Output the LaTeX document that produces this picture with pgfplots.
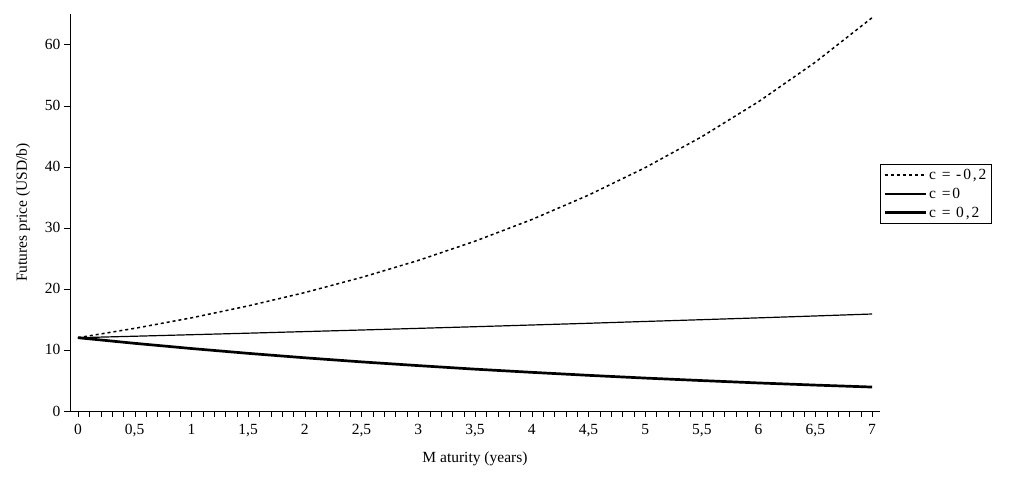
\documentclass[border=0pt]{standalone}
\usepackage{pgfplots}
\pgfplotsset{compat=1.18}
\usepackage{fontspec}
\setmainfont{Liberation Serif}
\newfontfamily\ls[LetterSpace=12]{Liberation Serif}
\begin{document}
\begin{tikzpicture}
\begin{axis}[name=ax, scale only axis, width=810pt, height=397pt,
 xmin=-0.07, xmax=7.07, ymin=0, ymax=65,
 axis x line=bottom, axis y line=left, axis line style={-},
 xtick={0,0.5,...,7}, minor x tick num=4, ytick={0,10,...,60},
 xticklabels={0,{0,5},1,{1,5},2,{2,5},3,{3,5},4,{4,5},5,{5,5},6,{6,5},7},
 tick style={black}, tick align=outside, major tick length=6pt, minor tick length=6pt,
 ticklabel style={font=\fontsize{15.5}{17}\selectfont},
 xticklabel style={yshift=-4pt},
 /pgf/number format/assume math mode=true,
 xlabel={M aturity (years)}, ylabel={Futures price (USD/b)},
 label style={font=\fontsize{15.5}{17}\selectfont},
 xlabel style={yshift=-8pt}, ylabel style={yshift=8pt},
 legend style={at={(1,0.622)}, anchor=north west, draw=black, font=\ls\fontsize{15.5}{17}\selectfont, legend cell align=left, row sep=3pt, inner sep=3pt},
 legend image code/.code={\draw[#1] (0cm,0cm) -- (1.45cm,0cm);},
]
\addplot[black, line width=1.5pt, dashed] coordinates {(0,12)(0.5,13.53)(1,15.25)(1.5,17.20)(2,19.39)(2.5,21.87)(3,24.65)(3.5,27.80)(4,31.34)(4.5,35.34)(5,39.84)(5.5,44.92)(6,50.65)(6.5,57.11)(7,64.39)};
\addlegendentry{c~=~-0,2}
\addplot[black, line width=1.2pt] coordinates {(0,12)(0.5,12.24)(1,12.49)(1.5,12.74)(2,13.00)(2.5,13.26)(3,13.53)(3.5,13.80)(4,14.08)(4.5,14.36)(5,14.66)(5.5,14.95)(6,15.25)(6.5,15.56)(7,15.88)};
\addlegendentry{c~=0}
\addplot[black, line width=2.7pt] coordinates {(0,12)(0.5,11.08)(1,10.23)(1.5,9.44)(2,8.71)(2.5,8.04)(3,7.43)(3.5,6.85)(4,6.33)(4.5,5.84)(5,5.39)(5.5,4.98)(6,4.59)(6.5,4.24)(7,3.92)};
\addlegendentry{c~=~0,2}
\end{axis}
\pgfresetboundingbox
\path ([shift={(-70pt,-75pt)}]ax.south west) rectangle ([shift={(134pt,14pt)}]ax.north east);
\end{tikzpicture}
\end{document}
